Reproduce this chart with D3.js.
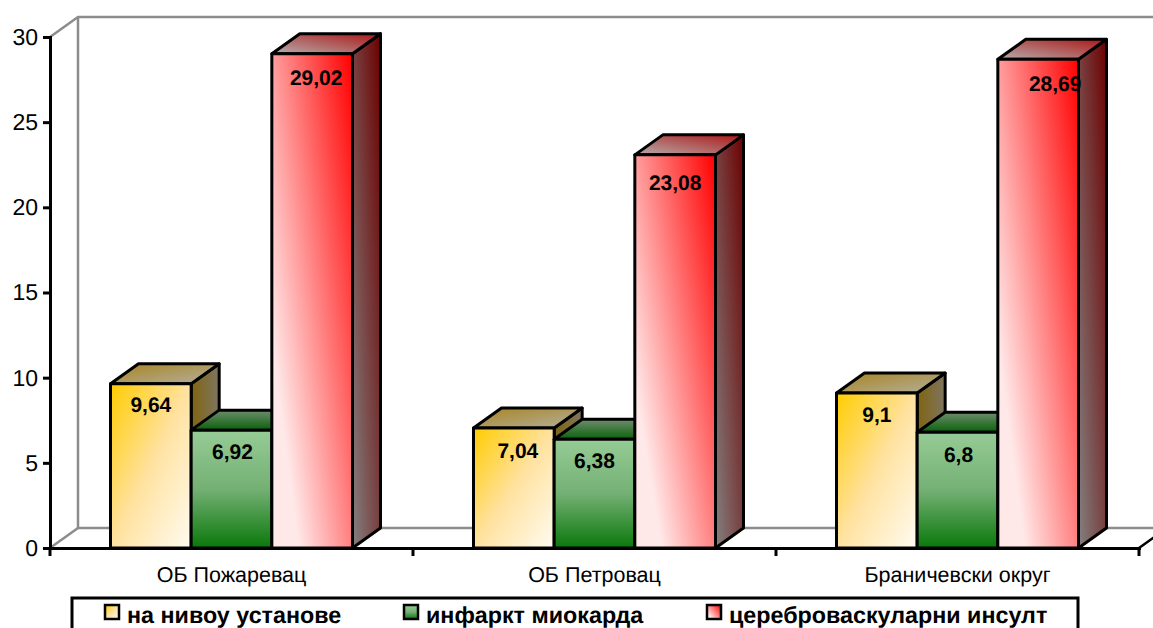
<!DOCTYPE html>
<html><head><meta charset="utf-8">
<script src="https://cdnjs.cloudflare.com/ajax/libs/d3/7.8.5/d3.min.js"></script>
<style>html,body{margin:0;padding:0;background:#fff;overflow:hidden}svg{display:block;font-family:"Liberation Sans",Arial,sans-serif;text-rendering:geometricPrecision}</style>
</head><body><svg id="c" width="1153" height="628"></svg>
<script>
const categories = ["ОБ Пожаревац","ОБ Петровац","Браничевски округ"];
const seriesNames = ["на нивоу установе","инфаркт миокарда","цереброваскуларни инсулт"];
const ustanove = [9.64,7.04,9.1];
const infarkt = [6.92,6.38,6.8];
const insult = [29.02,23.08,28.69];
const labels = [["9,64","7,04","9,1"],["6,92","6,38","6,8"],["29,02","23,08","28,69"]];
const labelNudgeX = [[0,4,0],[1,0,1],[4,0,17]];
const labelNudgeY = [[28,30,29],[29,29,30],[31,35,32]];
const yTicks = [0,5,10,15,20,25,30];
const series = [ustanove,infarkt,insult];

const svg = d3.select("#c");
const depthX = 28, depthY = -20;
const x = d3.scaleBand().domain(categories).range([50,1139]);
const y = d3.scaleLinear().domain([0,30]).range([548,37]);
const inner = d3.scaleBand().domain([0,1,2]).range([0,x.bandwidth()]).paddingOuter(0.75).paddingInner(0);

const defs = svg.append("defs");
function grad(id,dir,stops){
  const g = defs.append("linearGradient").attr("id",id)
    .attr("x1",dir[0]).attr("y1",dir[1]).attr("x2",dir[2]).attr("y2",dir[3]);
  stops.forEach((c,i)=>g.append("stop").attr("offset",i/(stops.length-1)).attr("stop-color",c));
}
grad("f0",[0,0,1,1],["#FFCC00","#FFE2A0","#FFFCF2"]);
grad("f1",[0,0,0,1],["#96CC96","#74B074","#0A780A"]);
grad("f2",[1,0,0.111,0.719],["#FF0000","#FFE8E8"]);
grad("s0",[0,0,1,0],["#806410","#7F7560"]);
grad("s1",[0,0,1,0],["#4A7A4A","#0A4A0A"]);
grad("s2",[0,1,1,0],["#848080","#6C0000"]);
grad("t0",[0,0,1,1],["#A88420","#B4B0A0"]);
grad("t1",[0,0,0,1],["#6E8E6E","#0A600A"]);
grad("t2",[1,0,0,1],["#AE1616","#B4ACAC"]);

// Back wall lines
const x0 = x.range()[0], xEnd = x.range()[1], yb = y(0), yt = y(30);
const wall = svg.append("g").attr("fill","none").attr("stroke","#8c8c8c").attr("stroke-width",2.5);
wall.append("path").attr("d",d3.line()([[x0,yt],[x0+depthX,yt+depthY],[1153,yt+depthY]]));
wall.append("path").attr("d",d3.line()([[x0+depthX,yt+depthY],[x0+depthX,yb+depthY],[1153,yb+depthY]]));
wall.append("path").attr("d",d3.line()([[x0,yb],[x0+depthX,yb+depthY]]));
wall.append("path").attr("d",d3.line()([[xEnd,yb],[xEnd+depthX,yb+depthY]])).attr("stroke","#000");

// Bars, painted left to right
const bars = svg.append("g").attr("stroke","#000").attr("stroke-width",3).attr("stroke-linejoin","round");
categories.forEach((cat,ci)=>{
  series.forEach((vals,si)=>{
    const l = x(cat)+inner(si), r = l+inner.bandwidth(), t = y(vals[ci]), b = y(0);
    const poly = pts => bars.append("path").attr("d",d3.line()(pts)+"Z");
    poly([[r,t],[r+depthX,t+depthY],[r+depthX,b+depthY],[r,b]]).attr("fill",`url(#s${si})`);
    poly([[l,t],[l+depthX,t+depthY],[r+depthX,t+depthY],[r,t]]).attr("fill",`url(#t${si})`);
    bars.append("rect").attr("x",l).attr("y",t).attr("width",r-l).attr("height",b-t).attr("fill",`url(#f${si})`);
  });
});

// Axes
const yAxis = svg.append("g").attr("transform",`translate(${x0},0)`).call(d3.axisLeft(y).tickValues(yTicks).tickSize(7).tickPadding(5).tickSizeOuter(0));
const xAxis = svg.append("g").attr("transform",`translate(0,${yb})`).call(d3.axisBottom(x).tickSize(0).tickPadding(19).tickSizeOuter(0));
[yAxis,xAxis].forEach(a=>{a.selectAll("path,line").attr("stroke","#000").attr("stroke-width",3);a.select(".domain").attr("stroke-linecap","square");});
yAxis.selectAll("text").attr("font-family","Liberation Sans").attr("font-size",23).attr("fill","#000");
xAxis.selectAll("text").attr("font-family","Liberation Sans").attr("font-size",21.5).attr("fill","#000");
xAxis.selectAll(".sep").data(d3.range(categories.length+1)).enter().append("line").attr("class","sep")
  .attr("x1",i=>x0+i*x.step()).attr("x2",i=>x0+i*x.step()).attr("y1",0).attr("y2",8).attr("stroke","#000").attr("stroke-width",3);

// Data labels
series.forEach((vals,si)=>{
  svg.append("g").selectAll("text").data(vals).enter().append("text")
    .attr("x",(d,ci)=>x(categories[ci])+inner(si)+inner.bandwidth()/2+labelNudgeX[si][ci])
    .attr("y",(d,ci)=>y(d)+labelNudgeY[si][ci])
    .attr("text-anchor","middle").attr("font-size",21).attr("font-weight","bold").attr("fill","#000")
    .text((d,ci)=>labels[si][ci]);
});

// Legend
const lg = svg.append("g");
lg.append("rect").attr("x",72).attr("y",598).attr("width",1006).attr("height",50).attr("fill","#fff").attr("stroke","#000").attr("stroke-width",3);
const legendX = d3.scalePoint().domain(seriesNames).range([105,707]);
seriesNames.forEach((n,i)=>{
  const lx = legendX(n) + (i==1?-2:0);
  lg.append("rect").attr("x",lx).attr("y",605).attr("width",14).attr("height",14).attr("fill",`url(#f${i})`).attr("stroke","#000").attr("stroke-width",2.5);
  lg.append("text").attr("x",lx+22).attr("y",623).attr("font-size",23.3).attr("font-weight","bold").attr("fill","#000").text(n);
});
</script></body></html>
